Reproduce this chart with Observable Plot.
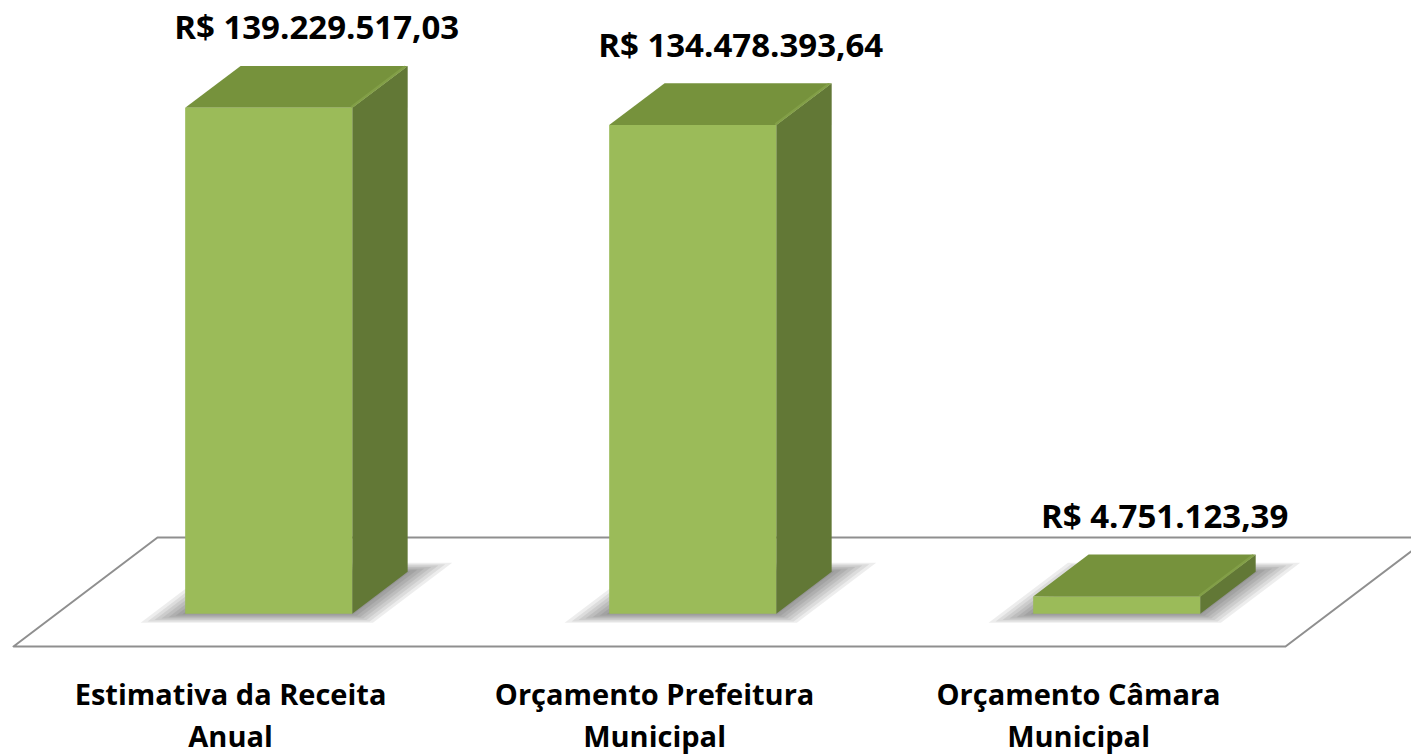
<!DOCTYPE html>
<html>
<head>
<meta charset="utf-8">
<script src="https://cdn.jsdelivr.net/npm/d3@7"></script>
<script src="https://cdn.jsdelivr.net/npm/@observablehq/plot@0.6"></script>
<style>
  html, body { margin: 0; padding: 0; background: #fff; overflow: hidden; }
  #chart svg { display: block; }
</style>
</head>
<body>
<div id="chart"></div>
<script>
// ---- data ----
const categories = ["Estimativa da Receita\nAnual", "Orçamento Prefeitura\nMunicipal", "Orçamento Câmara\nMunicipal"];
const values = [139229517.03, 134478393.64, 4751123.39];
const valueLabels = ["R$ 139.229.517,03", "R$ 134.478.393,64", "R$ 4.751.123,39"];

// ---- 3D projection parameters (in scale units) ----
const DX = 0.3396;     // x shift per unit depth (category units)
const DV = 30.0e6;     // vertical shift per unit depth (value units)
const D0 = 0.30, D1 = 0.685; // bar depth extent
const HW = 0.197;      // bar half width
const P = (c, v, d, id) => ({x: c + d * DX, y: v + d * DV, id});

const frontFaces = [], sideFaces = [], topFaces = [], shadowPolys = [], bevel = [];
values.forEach((v, i) => {
  frontFaces.push(P(i - HW, 0, D0, i), P(i + HW, 0, D0, i), P(i + HW, v, D0, i), P(i - HW, v, D0, i));
  sideFaces.push(P(i + HW, 0, D0, i), P(i + HW, 0, D1, i), P(i + HW, v, D1, i), P(i + HW, v, D0, i));
  topFaces.push(P(i - HW, v, D0, i), P(i + HW, v, D0, i), P(i + HW, v, D1, i), P(i - HW, v, D1, i));
  bevel.push(P(i + HW - 0.004, v, D0 + 0.01, i), P(i + HW - 0.004, v, D1 - 0.01, i));
  for (let k = 0; k < 7; k++) {
    const e = 0.005 + k * 0.012, ed = 0.005 + k * 0.013, id = i * 10 + k;
    shadowPolys.push(P(i - HW - e, 0, D0 - ed, id), P(i + HW + e, 0, D0 - ed, id), P(i + HW + e, 0, D1 + ed, id), P(i - HW - e, 0, D1 + ed, id));
  }
});
const floorPoly = [P(-0.5, 0, 0, 0), P(2.5, 0, 0, 0), P(2.5, 0, 1, 0), P(-0.5, 0, 1, 0)];
const rows = values.map((v, i) => ({i, v, cat: categories[i], lab: valueLabels[i]}));

const poly = (data, fill, extra = {}) => Plot.line(data, {x: "x", y: "y", z: "id", fill, stroke: "none", curve: "linear-closed", ...extra});

const chart = Plot.plot({
  width: 1411,
  height: 756,
  marginTop: 0, marginBottom: 110, marginLeft: 0, marginRight: 0,
  x: {domain: [-0.5, 2.5], range: [13, 1285], axis: null},
  y: {domain: [0, 177.77e6], range: [646, 0], axis: null},
  style: {fontFamily: "'Open Sans', Lato, sans-serif", background: "#fff", overflow: "hidden"},
  marks: [
    Plot.line(floorPoly, {x: "x", y: "y", fill: "#fff", stroke: "#8f8f8f", strokeWidth: 2, curve: "linear-closed"}),
    poly(shadowPolys, "#000", {fillOpacity: 0.07}),
    poly(sideFaces, "#627836"),
    poly(topFaces, "#76923c"),
    Plot.line(bevel, {x: "x", y: "y", z: "id", stroke: "#86a34a", strokeWidth: 2.5, strokeOpacity: 0.8}),
    poly(frontFaces, "#9bbb59"),
    Plot.text(rows, {
      x: d => d.i + 0.215, y: d => d.v + D1 * DV, text: "lab",
      lineAnchor: "top", dy: -50, fontSize: 33, fontWeight: "bold", fill: "#000"
    }),
    Plot.text(rows, {
      x: d => d.i + 0.012, y: () => 0, text: "cat",
      lineAnchor: "top", dy: 28, lineHeight: 1.47, fontSize: 29, fontWeight: "bold", fill: "#000"
    })
  ]
});

document.getElementById("chart").appendChild(chart);
</script>
</body>
</html>
